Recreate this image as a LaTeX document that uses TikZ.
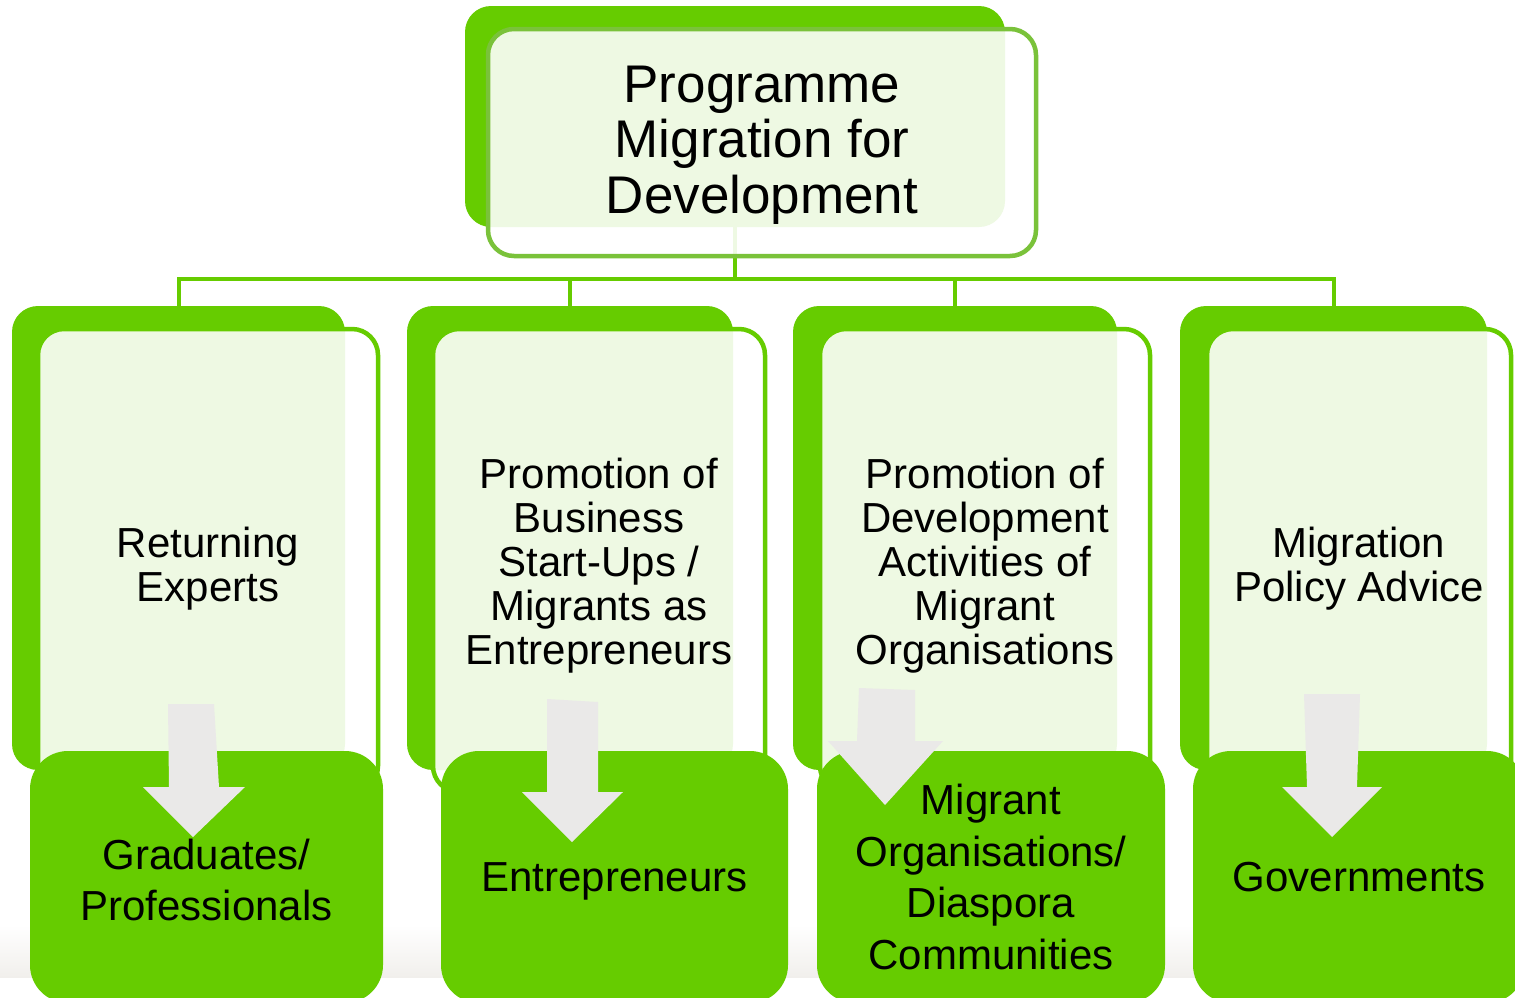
\documentclass[tikz,border=0pt]{standalone}
\usepackage{fontspec}
\setmainfont{Liberation Sans}
\definecolor{lg}{RGB}{102,204,0}
\definecolor{lgo}{RGB}{122,194,58}
\definecolor{arr}{RGB}{234,233,232}
\definecolor{foot}{RGB}{241,239,236}
\pgfdeclarelayer{mid}
\pgfdeclarelayer{top}
\pgfsetlayers{main,mid,top}
\begin{document}
\begin{tikzpicture}[x=1pt,y=-1pt,
  shadowbox/.style={fill=lg, draw=none, rounded corners=26pt, inner sep=0pt, outer sep=0pt},
  frontbox/.style={fill=white, fill opacity=0.89, draw=lg, draw opacity=1,
    line width=4.5pt, rounded corners=26pt, inner sep=0pt, outer sep=0pt},
  targetbox/.style={fill=lg, draw=none, rounded corners=38pt, inner sep=0pt, outer sep=0pt},
  coltext/.style={align=center, inner sep=0pt, font=\fontsize{42}{44}\selectfont},
  tgttext/.style={align=center, inner sep=0pt, font=\fontsize{42}{51.5}\selectfont},
  conn/.style={draw=lg, line width=4pt},
  blockarrow/.style={fill=arr, draw=none}]
\useasboundingbox[fill=white] (0,0) rectangle (1515,997);
% footer band
\shade[top color=white, bottom color=foot] (0,925) rectangle (1515,977);

% shadow boxes
\node[shadowbox, minimum width=540pt, minimum height=221pt] (g0) at (735,116.5) {};
\node[shadowbox, minimum width=333pt, minimum height=464pt] (g1) at (178.5,538) {};
\node[shadowbox, minimum width=326pt, minimum height=464pt] (g2) at (570,538) {};
\node[shadowbox, minimum width=324pt, minimum height=464pt] (g3) at (955,538) {};
\node[shadowbox, minimum width=307pt, minimum height=464pt] (g4) at (1333.5,538) {};

% connectors
\coordinate (bus) at (0,279);
\draw[conn] (g0.south) -- (g0.south |- bus);
\draw[conn] (g1.north) -- (g1.north |- bus) -- (g4.north |- bus) -- (g4.north);
\draw[conn] (g2.north) -- (g2.north |- bus);
\draw[conn] (g3.north) -- (g3.north |- bus);

% front boxes
\node[frontbox, draw=lgo, minimum width=548pt, minimum height=227pt] (f0) at (762,142.5) {};
\node[frontbox, minimum width=340pt, minimum height=463pt] (f1) at (208,560.5) {};
\node[frontbox, minimum width=332pt, minimum height=463pt] (f2) at (599,560.5) {};
\node[frontbox, minimum width=330pt, minimum height=463pt] (f3) at (985,560.5) {};
\node[frontbox, minimum width=304pt, minimum height=463pt] (f4) at (1359,560.5) {};

% target boxes
\node[targetbox, minimum width=353pt, minimum height=252pt] (b1) at (206.5,877) {};
\node[targetbox, minimum width=347pt, minimum height=252pt] (b2) at (614.5,877) {};
\node[targetbox, minimum width=348pt, minimum height=252pt] (b3) at (991,877) {};
\node[targetbox, minimum width=332pt, minimum height=252pt] (b4) at (1359,877) {};

\begin{pgfonlayer}{mid}
\fill[blockarrow] (168,704) -- (214,704) -- (219,787) -- (245,787) -- (193,837) -- (143,787) -- (169,787) -- cycle;
\fill[blockarrow] (547,699) -- (598,702) -- (598,792) -- (623,792) -- (572,842) -- (522,792) -- (547,792) -- cycle;
\fill[blockarrow] (859,688) -- (915,690) -- (915,741) -- (943,741) -- (885,805) -- (828,741) -- (857,741) -- cycle;
\fill[blockarrow] (1304,694) -- (1360,694) -- (1357,787) -- (1382,787) -- (1332,837) -- (1282,787) -- (1307,787) -- cycle;
\end{pgfonlayer}

\begin{pgfonlayer}{top}
\node[align=center, inner sep=0pt, font=\fontsize{53}{55.5}\selectfont] (t0) at ([yshift=-2.5pt]f0.center) {Programme\\Migration for\\Development};
\node[coltext] (s1) at ([yshift=-8pt]f1.center) {Returning\\Experts};
\node[coltext] (s2) at ([yshift=-5.5pt]f2.center) {Promotion of\\Business\\Start-Ups /\\Migrants as\\Entrepreneurs};
\node[coltext] (s3) at ([yshift=-5.5pt]f3.center) {Promotion of\\Development\\Activities of\\Migrant\\Organisations};
\node[coltext] (s4) at ([yshift=-8pt]f4.center) {Migration\\Policy Advice};
\node[tgttext] (t1) at ([yshift=-3pt]b1.center) {Graduates/\\Professionals};
\node[tgttext] (t2) at ([yshift=-4pt]b2.center) {Entrepreneurs};
\node[tgttext] (t3) at (b3.center) {Migrant\\Organisations/\\Diaspora\\Communities};
\node[tgttext] (t4) at (b4.center) {Governments};
\end{pgfonlayer}
\end{tikzpicture}
\end{document}
